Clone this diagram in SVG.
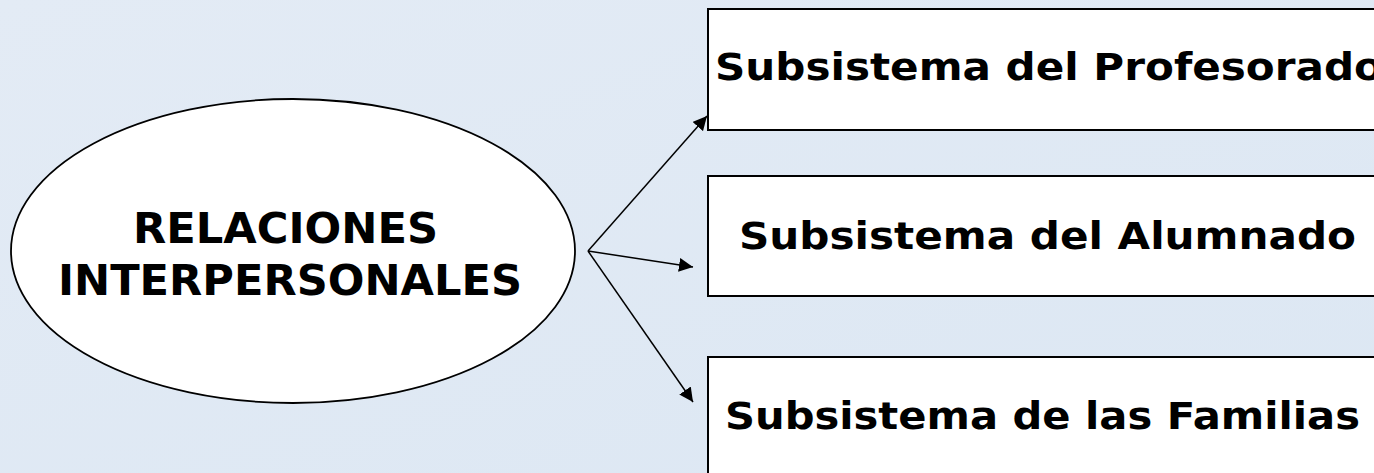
<svg xmlns="http://www.w3.org/2000/svg" width="1374" height="473" viewBox="0 0 1374 473">
<defs>
<linearGradient id="bg" x1="0" y1="0" x2="1" y2="1">
<stop offset="0" stop-color="#e3ebf5"/>
<stop offset="1" stop-color="#dce7f3"/>
</linearGradient>
<marker id="arr" viewBox="0 0 10 10" refX="10" refY="5" markerWidth="14" markerHeight="14" markerUnits="userSpaceOnUse" orient="auto">
<path d="M0,0 L10,5 L0,10 z" fill="#000"/>
</marker>
<style>
.box{fill:#fff;stroke:#000;stroke-width:2}
.t{font-family:"DejaVu Sans",Verdana,sans-serif;font-weight:bold;fill:#000}
.bt{font-size:37px}
.et{font-size:42px}
.c{stroke:#000;stroke-width:1.5;fill:none;marker-end:url(#arr)}
</style>
</defs>
<rect width="1374" height="473" fill="url(#bg)"/>
<g id="center">
<ellipse cx="293" cy="251" rx="282" ry="152" fill="#fff" stroke="#000" stroke-width="1.8"/>
<text class="t et" x="133" y="243" textLength="305" lengthAdjust="spacingAndGlyphs">RELACIONES</text>
<text class="t et" x="58" y="295" textLength="464" lengthAdjust="spacingAndGlyphs">INTERPERSONALES</text>
</g>
<g id="profesorado">
<rect class="box" x="708" y="9" width="700" height="121"/>
<text class="t bt" x="715" y="80" textLength="668" lengthAdjust="spacingAndGlyphs">Subsistema del Profesorado</text>
</g>
<g id="alumnado">
<rect class="box" x="708" y="176" width="700" height="120"/>
<text class="t bt" x="739" y="249" textLength="617" lengthAdjust="spacingAndGlyphs">Subsistema del Alumnado</text>
</g>
<g id="familias">
<rect class="box" x="708" y="357" width="700" height="140"/>
<text class="t bt" x="725" y="429" textLength="635" lengthAdjust="spacingAndGlyphs">Subsistema de las Familias</text>
</g>
<g id="connectors">
<line class="c" x1="588" y1="251" x2="707" y2="116"/>
<line class="c" x1="588" y1="251" x2="693" y2="267"/>
<line class="c" x1="588" y1="251" x2="693" y2="402"/>
</g>
</svg>
